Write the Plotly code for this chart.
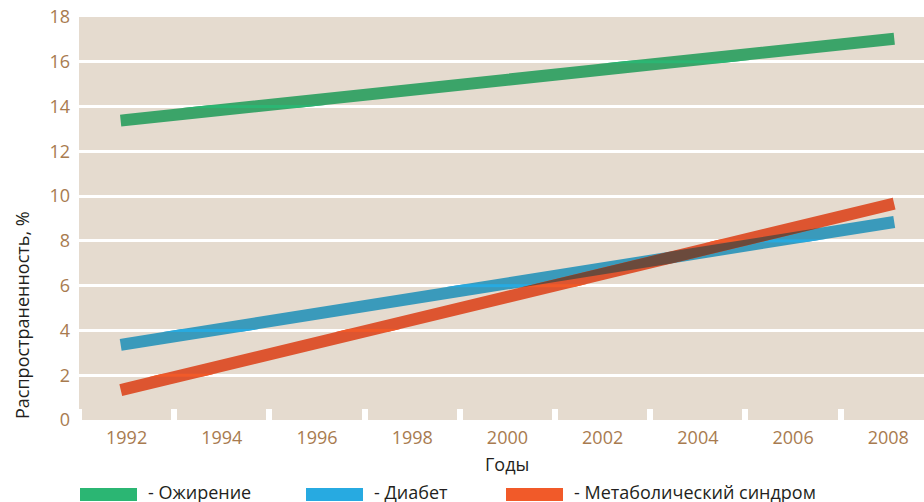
import json
import plotly.graph_objects as go

# Prevalence of obesity, diabetes and metabolic syndrome, %
years = [1992, 2008]
obesity = [13.4, 17.0]
diabetes = [3.4, 8.8]
metabolic = [1.4, 9.6]

series_names = ["Ожирение", "Диабет", "Метаболический синдром"]
series_values = [obesity, diabetes, metabolic]
# swatch colours (legend) and the tone each line takes on the beige plot area
series_colors = ["#2bb673", "#27aae1", "#f15a29"]
line_colors = ["#3ba469", "#3a9abb", "#dd5530"]
overlap_color = "#6b4a3c"

tick_years = list(range(1992, 2009, 2))
minor_years = list(range(1991, 2009, 2))
y_ticks = list(range(0, 19, 2))

W, H = 924, 502
L, R, T, B = 79, 0, 17, 82
PW, PH = W - L - R, H - T - B

BG = "#e5dbcf"
TICK_COLOR = "#a87b4f"
TEXT_COLOR = "#231f20"
FONT = "Open Sans"


def px_x(px):
    return (px - L) / PW


def px_y(py):
    return (H - B - py) / PH


fig = go.Figure()
for name, vals, col in zip(series_names, series_values, line_colors):
    fig.add_trace(go.Scatter(
        x=years, y=vals, name=name, mode="lines",
        line=dict(color=col, width=12),
        showlegend=False, hoverinfo="skip",
    ))

fig.update_layout(
    width=W, height=H,
    margin=dict(l=L, r=R, t=T, b=B),
    paper_bgcolor="white",
    plot_bgcolor=BG,
    font=dict(family=FONT, size=18, color=TEXT_COLOR),
    xaxis=dict(
        range=[1991, 2008.75],
        tickvals=tick_years,
        ticktext=[str(y) for y in tick_years],
        ticks="",
        showgrid=False, zeroline=False, showline=False,
        tickfont=dict(color=TICK_COLOR, size=18),
        ticklabelstandoff=5,
        minor=dict(tickvals=minor_years, ticks="inside", ticklen=11,
                   tickwidth=6, tickcolor="white", showgrid=False),
    ),
    yaxis=dict(
        range=[0, 18],
        tickvals=y_ticks,
        ticks="",
        showgrid=True, gridcolor="white", gridwidth=3,
        zeroline=False, showline=False,
        tickfont=dict(color=TICK_COLOR, size=18),
        ticklabelstandoff=8,
    ),
)

# Axis titles
fig.add_annotation(
    text="Годы", xref="paper", yref="paper",
    x=px_x(507), y=px_y(464), xanchor="center", yanchor="middle",
    showarrow=False, font=dict(size=18, color=TEXT_COLOR),
)
fig.add_annotation(
    text="Распространенность, %", xref="paper", yref="paper",
    x=px_x(22), y=px_y(315), xanchor="center", yanchor="middle",
    textangle=-90, showarrow=False, font=dict(size=18, color=TEXT_COLOR),
)

# Legend row: colour swatch followed by label
legend_x = [80, 306, 506]
for lx, name, col in zip(legend_x, series_names, series_colors):
    fig.add_shape(
        type="rect", xref="paper", yref="paper",
        x0=px_x(lx), x1=px_x(lx + 57), y0=px_y(501), y1=px_y(488),
        line=dict(width=0), fillcolor=col, layer="above",
    )
    fig.add_annotation(
        text="- " + name, xref="paper", yref="paper",
        x=px_x(lx + 66), y=px_y(492), xanchor="left", yanchor="middle",
        showarrow=False, font=dict(size=18, color=TEXT_COLOR),
    )

# After drawing: square line caps, the lines' pure colour where they cross
# the white grid, and a dark band where diabetes and metabolic syndrome overlap.
post_js = """
var gd = document.getElementById('{plot_id}');
var ns = 'http://www.w3.org/2000/svg';
var ya = gd._fullLayout.yaxis;
var svg = gd.querySelector('svg.main-svg');
var defs = svg.querySelector('defs');
var layer = gd.querySelector('.scatterlayer');
var lines = gd.querySelectorAll('.scatterlayer path.js-line');
var GRID = __GRID__;
var PURE = __PURE__;
var OVERLAP = __OVERLAP__;
lines.forEach(function(p){ p.style.strokeLinecap = 'square'; });

function makeMask(id) {
  var m = document.createElementNS(ns, 'mask');
  m.setAttribute('id', id);
  m.setAttribute('maskUnits', 'userSpaceOnUse');
  m.setAttribute('x', '-2000'); m.setAttribute('y', '-2000');
  m.setAttribute('width', '6000'); m.setAttribute('height', '6000');
  defs.appendChild(m);
  return m;
}

var gm = makeMask('grid-band');
GRID.forEach(function(v){
  var y = ya.c2p(v);
  var r = document.createElementNS(ns, 'rect');
  r.setAttribute('x', '-2000'); r.setAttribute('width', '6000');
  r.setAttribute('y', String(y - 1.5)); r.setAttribute('height', '3');
  r.setAttribute('fill', '#ffffff');
  gm.appendChild(r);
});
var stripes = document.createElementNS(ns, 'g');
lines.forEach(function(p, i){
  var c = p.cloneNode(true);
  c.style.stroke = PURE[i]; c.style.strokeOpacity = '1'; c.style.fill = 'none';
  c.style.strokeLinecap = 'square';
  c.setAttribute('mask', 'url(#grid-band)');
  stripes.appendChild(c);
});
layer.appendChild(stripes);

if (lines.length >= 3) {
  var om = makeMask('overlap-band');
  var m = lines[1].cloneNode(true);
  m.style.stroke = '#ffffff'; m.style.strokeOpacity = '1'; m.style.fill = 'none';
  m.style.strokeLinecap = 'square';
  om.appendChild(m);
  var band = lines[2].cloneNode(true);
  band.style.stroke = OVERLAP; band.style.strokeOpacity = '1'; band.style.fill = 'none';
  band.style.strokeLinecap = 'square';
  band.setAttribute('mask', 'url(#overlap-band)');
  var g = document.createElementNS(ns, 'g');
  g.appendChild(band);
  layer.appendChild(g);
}
"""
post_js = (post_js
           .replace("__GRID__", json.dumps(y_ticks[1:-1]))
           .replace("__PURE__", json.dumps(series_colors))
           .replace("__OVERLAP__", json.dumps(overlap_color)))

fig.write_html("out.html", post_script=post_js)
